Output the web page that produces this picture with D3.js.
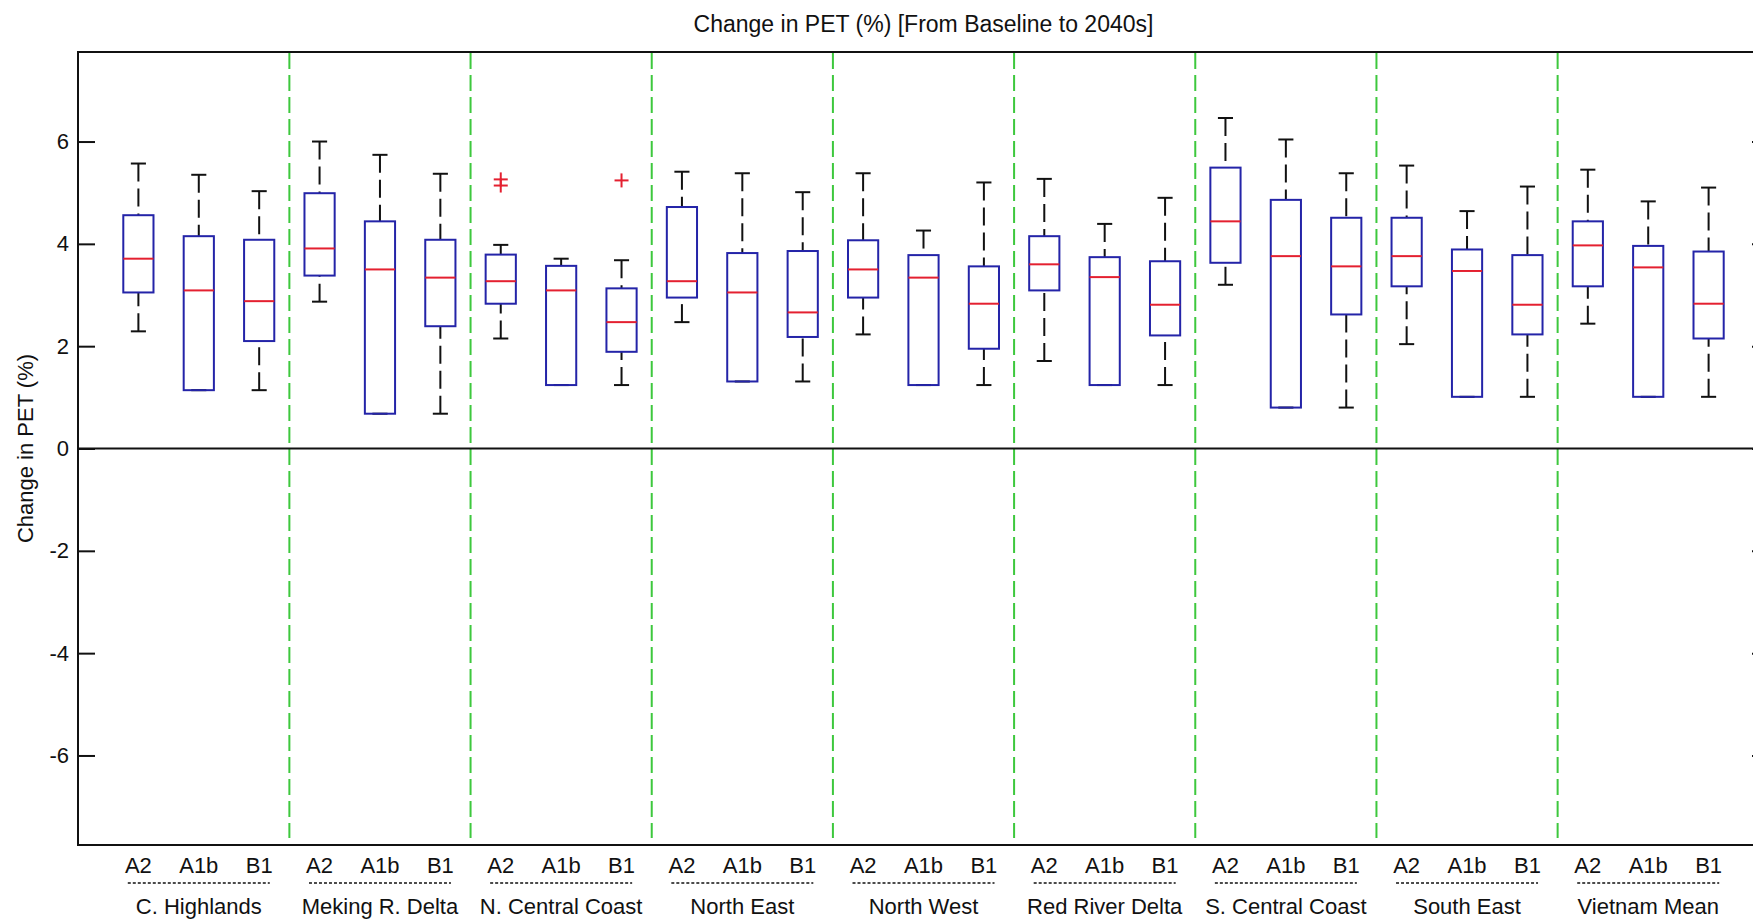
<!DOCTYPE html>
<html><head><meta charset="utf-8">
<script src="https://cdn.jsdelivr.net/npm/d3@7"></script>
<style>
body{margin:0;background:#fff}
text{font-family:"Liberation Sans",Arial,sans-serif;fill:#111}
</style>
</head><body>
<svg id="c" width="1753" height="922"></svg>
<script>
const regions = ["C. Highlands","Meking R. Delta","N. Central Coast","North East","North West","Red River Delta","S. Central Coast","South East","Vietnam Mean"];
const scenarios = ["A2","A1b","B1"];
const whiskerHigh = [5.57,5.35,5.03, 6.00,5.74,5.37, 3.98,3.71,3.68, 5.41,5.38,5.01, 5.38,4.26,5.20, 5.27,4.39,4.90, 6.46,6.04,5.38, 5.53,4.64,5.12, 5.45,4.83,5.10];
const q3          = [4.56,4.15,4.08, 4.99,4.44,4.08, 3.79,3.57,3.13, 4.72,3.82,3.86, 4.07,3.78,3.56, 4.15,3.74,3.66, 5.49,4.86,4.51, 4.51,3.89,3.78, 4.44,3.96,3.85];
const median      = [3.71,3.09,2.88, 3.91,3.50,3.34, 3.27,3.09,2.47, 3.27,3.05,2.66, 3.50,3.34,2.83, 3.60,3.35,2.81, 4.44,3.76,3.56, 3.76,3.47,2.81, 3.97,3.54,2.83];
const q1          = [3.05,1.14,2.10, 3.38,0.68,2.39, 2.83,1.24,1.89, 2.95,1.31,2.18, 2.95,1.24,1.95, 3.09,1.24,2.21, 3.63,0.80,2.62, 3.17,1.01,2.23, 3.17,1.01,2.15];
const whiskerLow  = [2.29,1.14,1.14, 2.87,0.68,0.68, 2.15,1.24,1.24, 2.47,1.31,1.31, 2.23,1.24,1.24, 1.71,1.24,1.24, 3.20,0.80,0.80, 2.04,1.01,1.01, 2.44,1.01,1.01];
const outlierBox   = [7, 7, 9];
const outlierValue = [5.26, 5.14, 5.24];
const yTicks = [-6,-4,-2,0,2,4,6];
const title = "Change in PET (%) [From Baseline to 2040s]";
const yLabel = "Change in PET (%)";

const svg = d3.select("#c");
const L = 78, R = 1769, T = 52, B = 845;
const x = d3.scaleLinear().domain([0, 28]).range([L, R]);
const y = d3.scaleLinear().domain([-7.75, 7.75]).range([B, T]);
const unit = x(1) - x(0);

const boxes = median.map((m, i) => ({
  p: i + 1, lo: whiskerLow[i], q1: q1[i], med: m, q3: q3[i], hi: whiskerHigh[i]
}));

// group separators
const seps = d3.range(1, regions.length).map(g => g * 3 + 0.5);
svg.append("g").selectAll("line").data(seps).join("line")
  .attr("x1", d => x(d)).attr("x2", d => x(d))
  .attr("y1", T + 1).attr("y2", B - 7)
  .attr("stroke", "#3dc83d").attr("stroke-width", 2)
  .attr("stroke-dasharray", "16,6");

// zero line
svg.append("line").attr("x1", L).attr("x2", R).attr("y1", y(0)).attr("y2", y(0))
  .attr("stroke", "#111").attr("stroke-width", 2);

// whiskers
const gw = svg.append("g").attr("stroke", "#111").attr("stroke-width", 2).attr("fill", "none");
boxes.forEach(b => {
  if (b.hi > b.q3) {
    gw.append("line").attr("x1", x(b.p)).attr("x2", x(b.p))
      .attr("y1", y(b.hi)).attr("y2", y(b.q3)).attr("stroke-dasharray", "18,7");
  }
  if (b.lo < b.q1) {
    gw.append("line").attr("x1", x(b.p)).attr("x2", x(b.p))
      .attr("y1", y(b.lo)).attr("y2", y(b.q1)).attr("stroke-dasharray", "18,7");
  }
  [b.hi, b.lo].forEach(v => {
    gw.append("line").attr("x1", x(b.p - 0.125)).attr("x2", x(b.p + 0.125))
      .attr("y1", y(v)).attr("y2", y(v));
  });
});

// boxes
svg.append("g").selectAll("rect").data(boxes).join("rect")
  .attr("x", d => x(d.p - 0.25)).attr("width", unit * 0.5)
  .attr("y", d => y(d.q3)).attr("height", d => y(d.q1) - y(d.q3))
  .attr("fill", "none").attr("stroke", "#2424a8").attr("stroke-width", 2);

// medians
svg.append("g").selectAll("line").data(boxes).join("line")
  .attr("x1", d => x(d.p - 0.25)).attr("x2", d => x(d.p + 0.25))
  .attr("y1", d => y(d.med)).attr("y2", d => y(d.med))
  .attr("stroke", "#e42030").attr("stroke-width", 2);

// outliers
const go = svg.append("g").attr("stroke", "#e42030").attr("stroke-width", 2);
outlierBox.forEach((p, i) => {
  const cx = x(p), cy = y(outlierValue[i]);
  go.append("line").attr("x1", cx - 7).attr("x2", cx + 7).attr("y1", cy).attr("y2", cy);
  go.append("line").attr("x1", cx).attr("x2", cx).attr("y1", cy - 7).attr("y2", cy + 7);
});

// axes
const ax = svg.append("g").attr("transform", `translate(${L},0)`)
  .call(d3.axisLeft(y).tickValues(yTicks).tickSize(-17).tickPadding(9).tickFormat(d => String(d)));
ax.select(".domain").remove();
ax.selectAll("line").attr("stroke", "#111").attr("stroke-width", 2);
ax.selectAll("text").attr("font-size", 22).attr("font-family", "Liberation Sans, Arial, sans-serif").attr("fill", "#111");

const axr = svg.append("g").attr("transform", `translate(${R},0)`)
  .call(d3.axisRight(y).tickValues(yTicks).tickSize(-17).tickFormat(""));
axr.select(".domain").remove();
axr.selectAll("line").attr("stroke", "#111").attr("stroke-width", 2);

// frame
svg.append("rect").attr("x", L).attr("y", T).attr("width", R - L).attr("height", B - T)
  .attr("fill", "none").attr("stroke", "#111").attr("stroke-width", 2);

// x labels
svg.append("g").selectAll("text").data(boxes).join("text")
  .attr("x", d => x(d.p)).attr("y", 873).attr("text-anchor", "middle")
  .attr("font-size", 22).text(d => scenarios[(d.p - 1) % 3]);

const gl = svg.append("g");
regions.forEach((r, g) => {
  const cx = x(g * 3 + 2);
  gl.append("line").attr("x1", cx - 71).attr("x2", cx + 71).attr("y1", 883).attr("y2", 883)
    .attr("stroke", "#111").attr("stroke-width", 1.5).attr("stroke-dasharray", "3,2");
  gl.append("text").attr("x", cx).attr("y", 914).attr("text-anchor", "middle")
    .attr("font-size", 22).text(r);
});

// title & y label
svg.append("text").attr("x", (L + R) / 2).attr("y", 32).attr("text-anchor", "middle")
  .attr("font-size", 23).text(title);
svg.append("text").attr("transform", `translate(33,${(T + B) / 2}) rotate(-90)`)
  .attr("text-anchor", "middle").attr("font-size", 22).text(yLabel);
</script>
</body></html>
